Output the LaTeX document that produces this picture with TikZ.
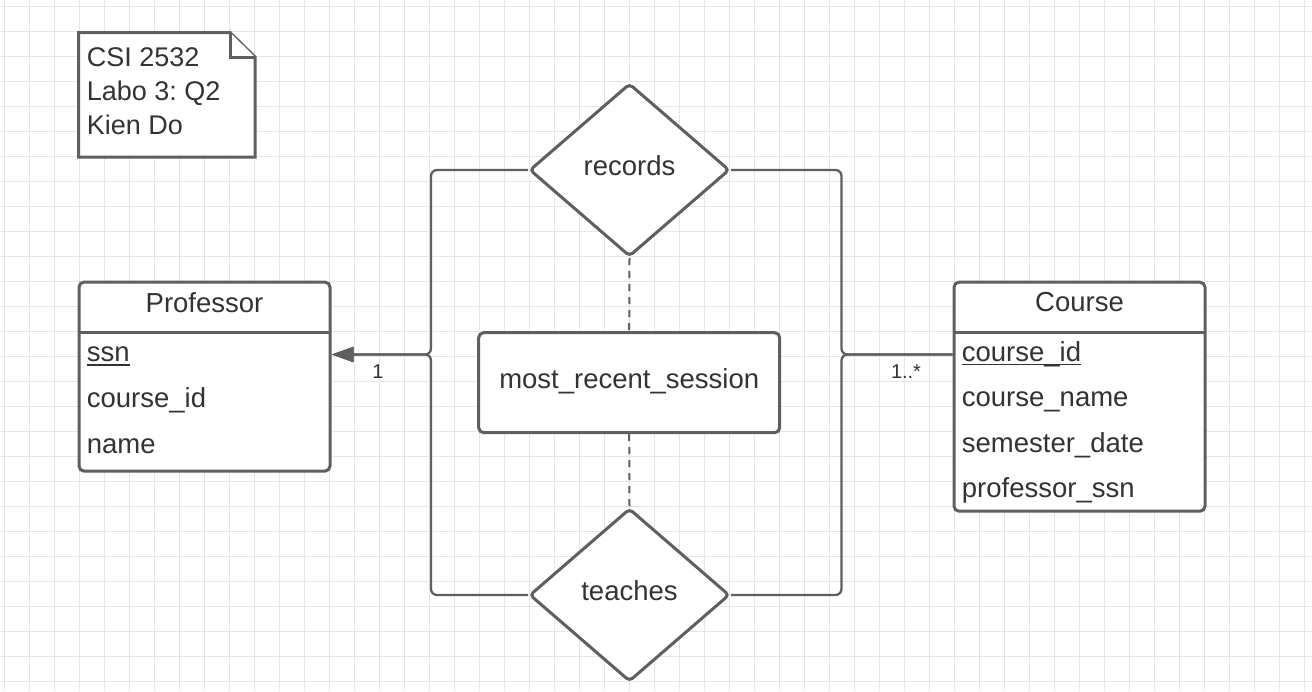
\documentclass[tikz,border=0pt]{standalone}
\usepackage{fontspec}
\setmainfont{Liberation Sans}
\usetikzlibrary{shapes.geometric,arrows.meta,calc}
\frenchspacing
\definecolor{stroke}{HTML}{5F5F5F}
\definecolor{txt}{HTML}{333333}
\definecolor{gridc}{HTML}{E6E6E6}
\tikzset{
  shapeline/.style={draw=stroke, line width=3pt, fill=white},
  entbox/.style={shapeline, rectangle, rounded corners=5pt, inner sep=0pt},
  reldiam/.style={shapeline, diamond, rounded corners=4pt, inner sep=0pt, minimum width=200pt, minimum height=173pt},
  bigtxt/.style={text=txt, inner sep=0pt, font=\fontsize{27.5}{33}\selectfont},
  attr/.style={bigtxt, anchor=base west},
  smalltxt/.style={text=txt, inner sep=0pt, font=\fontsize{20}{24}\selectfont, anchor=base},
  conn/.style={draw=stroke, line width=2.3pt, rounded corners=6pt},
  dashconn/.style={draw=stroke, line width=2pt, dash pattern=on 7pt off 6pt},
  uline/.style={draw=txt, line width=1.5pt}
}
\begin{document}
\begin{tikzpicture}[x=1pt,y=-1pt]
\useasboundingbox (0,0) rectangle (1312,691);
\fill[white] (0,0) rectangle (1312,691);
% grid
\foreach \gx in {0,...,52} {\draw[gridc, line width=1pt] ({4.5+25*\gx},0) -- ({4.5+25*\gx},691);}
\foreach \gy in {0,...,27} {\draw[gridc, line width=1pt] (0,{6.5+25*\gy}) -- (1312,{6.5+25*\gy});}

% note
\draw[shapeline, line join=miter] (78.5,32.5) -- (230,32.5) -- (255,57) -- (255,157) -- (78.5,157) -- cycle;
\draw[draw=stroke, line width=3pt, fill=white] (230,32.5) -- (230,57) -- (255,57);
\node[attr, font=\fontsize{27}{33}\selectfont] (n1) at (86.7,66.7) {CSI 2532};
\node[attr, font=\fontsize{27}{33}\selectfont] (n2) at (86.7,100.7) {Labo 3: Q2};
\node[attr, font=\fontsize{27}{33}\selectfont] (n3) at (86.7,134) {Kien Do};

% Professor entity
\node[entbox, minimum width=251pt, minimum height=189pt] (prof) at (204.5,376.6) {};
\draw[draw=stroke, line width=3pt] (79,332) -- (330,332);
\node[bigtxt, anchor=base] (profT) at (204.5,312.5) {Professor};
\node[attr] (pssn) at (86.7,361) {ssn};
\draw[uline] ([yshift=-4pt]pssn.base west) -- ([yshift=-4pt]pssn.base east);
\node[attr] (pcid) at (86.7,407) {course\_id};
\node[attr] (pname) at (86.7,453) {name};

% Course entity
\node[entbox, minimum width=251pt, minimum height=229pt] (course) at (1079.5,396.7) {};
\draw[draw=stroke, line width=3pt] (954,332) -- (1205,332);
\node[bigtxt, anchor=base] (courseT) at (1079.5,311.5) {Course};
\node[attr] (ccid) at (961.7,361) {course\_id};
\draw[uline] ([yshift=-3.5pt]ccid.base west) -- ([yshift=-3.5pt]ccid.base east);
\node[attr] (cname) at (961.7,406.5) {course\_name};
\node[attr] (cdate) at (961.7,452) {semester\_date};
\node[attr] (cssn) at (961.7,497) {professor\_ssn};

% relationships
\node[reldiam] (records) at (629.5,170) {};
\node[bigtxt, anchor=base] (recordsT) at (629.5,175) {records};
\node[reldiam] (teaches) at (629.5,595) {};
\node[bigtxt, anchor=base] (teachesT) at (629.5,600) {teaches};

% attribute box
\node[entbox, minimum width=301pt, minimum height=100pt] (mrs) at (629.2,382.7) {};
\node[bigtxt, anchor=base] (mrsT) at (629.2,388.3) {most\_recent\_session};

% dashed links
\draw[dashconn] (records.south) -- (mrs.north);
\draw[dashconn] (mrs.south) -- (teaches.north);

% connectors
\coordinate (pjL) at (431,354.5);
\coordinate (pjR) at (841.5,354.5);
\coordinate (profIn) at (prof.east |- pjL);
\coordinate (courseIn) at (course.west |- pjR);
\draw[conn, -{Triangle[length=22pt,width=15pt]}] (records.west) -| (pjL) -- (profIn);
\draw[conn, -{Triangle[length=22pt,width=15pt]}] (teaches.west) -| (pjL) -- (profIn);
\draw[conn] (records.east) -| (pjR) -- (courseIn);
\draw[conn] (teaches.east) -| (pjR) -- (courseIn);

% cardinalities
\node[smalltxt] (c1) at (378,378) {1};
\node[smalltxt] (c2) at (906,378) {1..*};
\end{tikzpicture}
\end{document}
